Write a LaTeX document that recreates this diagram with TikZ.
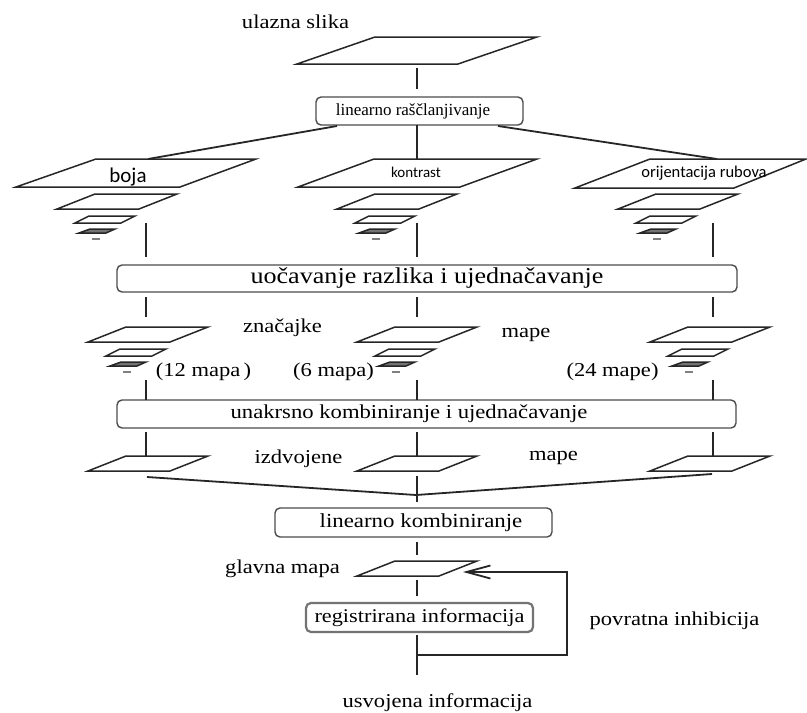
\documentclass[tikz,border=0pt]{standalone}
\usepackage{fontspec}
\usepackage{graphicx}
\setmainfont{Liberation Serif}[FakeStretch=1.15]
\newfontfamily\tnrfont{Liberation Serif}
\newfontfamily\carlfont{Carlito}
\usetikzlibrary{arrows.meta}
\tikzset{
  ln/.style={line width=1.8pt, draw=black!85},
  mapp/.style={line width=1.5pt, draw=black!85, line join=miter},
  boxn/.style={draw=black!70, line width=1.4pt, rounded corners=5pt, inner sep=0pt, fill=white},
  lbl/.style={anchor=base, inner sep=0pt, font=\fontsize{19.6}{22}\selectfont},
  sanslbl/.style={anchor=base, inner sep=0pt},
}
\newcommand\mapP[2]{\draw[mapp, shift={(#1,#2)}] (-82,0) -- (0,0) -- (-38,15) -- (-120,15) -- cycle;}
\newcommand\mapstack[2]{\mapP{#1}{#2}
  \draw[mapp, shift={(#1,#2)}] (-88,22) -- (-42,22) -- (-56,29) -- (-102,29) -- cycle;
  \draw[mapp, fill=black!55, shift={(#1,#2)}] (-87,35) -- (-62,35) -- (-71,39) -- (-98,39) -- cycle;
  \draw[line width=1.5pt, black!50, shift={(#1,#2)}] (-85,45) -- (-77,45);}
\begin{document}
\begin{tikzpicture}[x=1pt,y=-1pt]
\useasboundingbox (0,0) rectangle (807,713);

% top input image
\node[lbl] (tinput) at (295.5,28) {ulazna slika};
\draw[mapp] (375,37) -- (537,37) -- (458,64) -- (297,64) -- cycle;
\coordinate (tmB) at (417,68);
\coordinate (b1T) at (417,89);

% box 1
\node[boxn, minimum width=207pt, minimum height=28pt] (box1) at (419.5,111)
  {\tnrfont\fontsize{17}{19}\selectfont linearno raščlanjivanje\hspace*{13pt}};
\draw[ln] (tmB) -- (b1T);

% first row of feature maps
\draw[mapp] (96,159) -- (256,159) -- (180,187) -- (16,187) -- cycle;
\draw[mapp] (374,159) -- (537,159) -- (460,187) -- (298,187) -- cycle;
\draw[mapp] (650,159) -- (806,159) -- (734,188) -- (575,188) -- cycle;
\node[sanslbl, font=\carlfont\fontsize{21}{24}\selectfont] (tboja) at (128,182) {boja};
\node[sanslbl, font=\carlfont\fontsize{15}{18}\selectfont] (tkon) at (416,177) {kontrast};
\node[sanslbl, font=\carlfont\fontsize{16.5}{19}\selectfont] (tori) at (704,177) {orijentacija rubova};
\mapstack{177}{194}
\mapstack{457}{194}
\mapstack{738}{194}

\coordinate (b1L) at (337,126);
\coordinate (b1R) at (498,126);
\coordinate (b1C) at (417,125);
\coordinate (bojaT) at (148,159);
\coordinate (konT) at (417,159);
\coordinate (oriT) at (717,159);
\draw[ln] (b1L) -- (bojaT);
\draw[ln] (b1C) -- (konT);
\draw[ln] (b1R) -- (oriT);

% box 2
\node[boxn, minimum width=620pt, minimum height=27pt] (box2) at (427,278.5)
  {\fontsize{22.7}{25}\selectfont uočavanje razlika i ujednačavanje};

% second row of maps
\mapstack{208}{327}
\mapstack{477}{327}
\mapstack{770}{327}
\node[lbl] (tznac) at (282.5,332) {značajke};
\node[lbl] (tmape1) at (526,337) {mape};
\node[lbl] (t12) at (203.5,376) {(12 mapa\,)};
\node[lbl] (t6) at (333.5,376) {(6 mapa)};
\node[lbl] (t24) at (612.5,376) {(24 mape)};

% box 3
\node[boxn, minimum width=619pt, minimum height=28pt] (box3) at (426.5,414)
  {\fontsize{19.7}{22}\selectfont unakrsno kombiniranje i ujednačavanje\hspace*{35pt}};

% third row of maps
\mapP{208}{456}
\mapP{477}{456}
\mapP{770}{456}
\node[lbl] (tizd) at (298.5,463) {izdvojene};
\node[lbl] (tmape2) at (553.5,460) {mape};

% column connectors
\foreach \c/\x in {L/146, C/417, R/713} {
  \coordinate (a\c1) at (\x,223); \coordinate (a\c2) at (\x,257);
  \coordinate (b\c1) at (\x,297); \coordinate (b\c2) at (\x,317);
  \coordinate (c\c1) at (\x,380); \coordinate (c\c2) at (\x,400);
  \coordinate (d\c1) at (\x,432); \coordinate (d\c2) at (\x,456);
  \draw[ln] (a\c1) -- (a\c2);
  \draw[ln] (b\c1) -- (b\c2);
  \draw[ln] (c\c1) -- (c\c2);
  \draw[ln] (d\c1) -- (d\c2);
}

% converging lines
\coordinate (jL) at (147,477);
\coordinate (jR) at (712,474);
\coordinate (jM) at (416,495);
\coordinate (jC1) at (417,476);
\coordinate (jC2) at (417,502);
\draw[ln] (jL) -- (jM) -- (jR);
\draw[ln] (jC1) -- (jC2);

% box 4
\node[boxn, minimum width=277pt, minimum height=29pt] (box4) at (413.5,522.5)
  {\fontsize{19.9}{22}\selectfont\hspace*{15pt}linearno kombiniranje};
\coordinate (e1) at (417,542);
\coordinate (e2) at (417,555);
\draw[ln] (e1) -- (e2);

% main map
\mapP{477}{561}
\node[lbl] (tglav) at (282.5,573) {glavna mapa};
\coordinate (f1) at (417,580);
\coordinate (f2) at (417,596);
\draw[ln] (f1) -- (f2);

% box 5
\node[boxn, draw=black!55, line width=2.2pt, minimum width=227pt, minimum height=29pt] (box5) at (419.5,617.5)
  {\fontsize{19.4}{22}\selectfont registrirana informacija};
\coordinate (g1) at (417,635);
\coordinate (g2) at (417,675);
\coordinate (gJ) at (417,655);
\coordinate (loopB) at (567,655);
\coordinate (loopT) at (567,572);
\coordinate (arrT) at (463,572);
\draw[ln] (g1) -- (g2);
\draw[ln, -{Straight Barb[length=24pt,width=13pt,line width=1.8pt]}] (gJ) -- (loopB) -- (loopT) -- (arrT);
\node[lbl] (tpov) at (674.5,625) {povratna inhibicija};
\node[lbl] (tusv) at (437.5,707) {usvojena informacija};
\end{tikzpicture}
\end{document}
